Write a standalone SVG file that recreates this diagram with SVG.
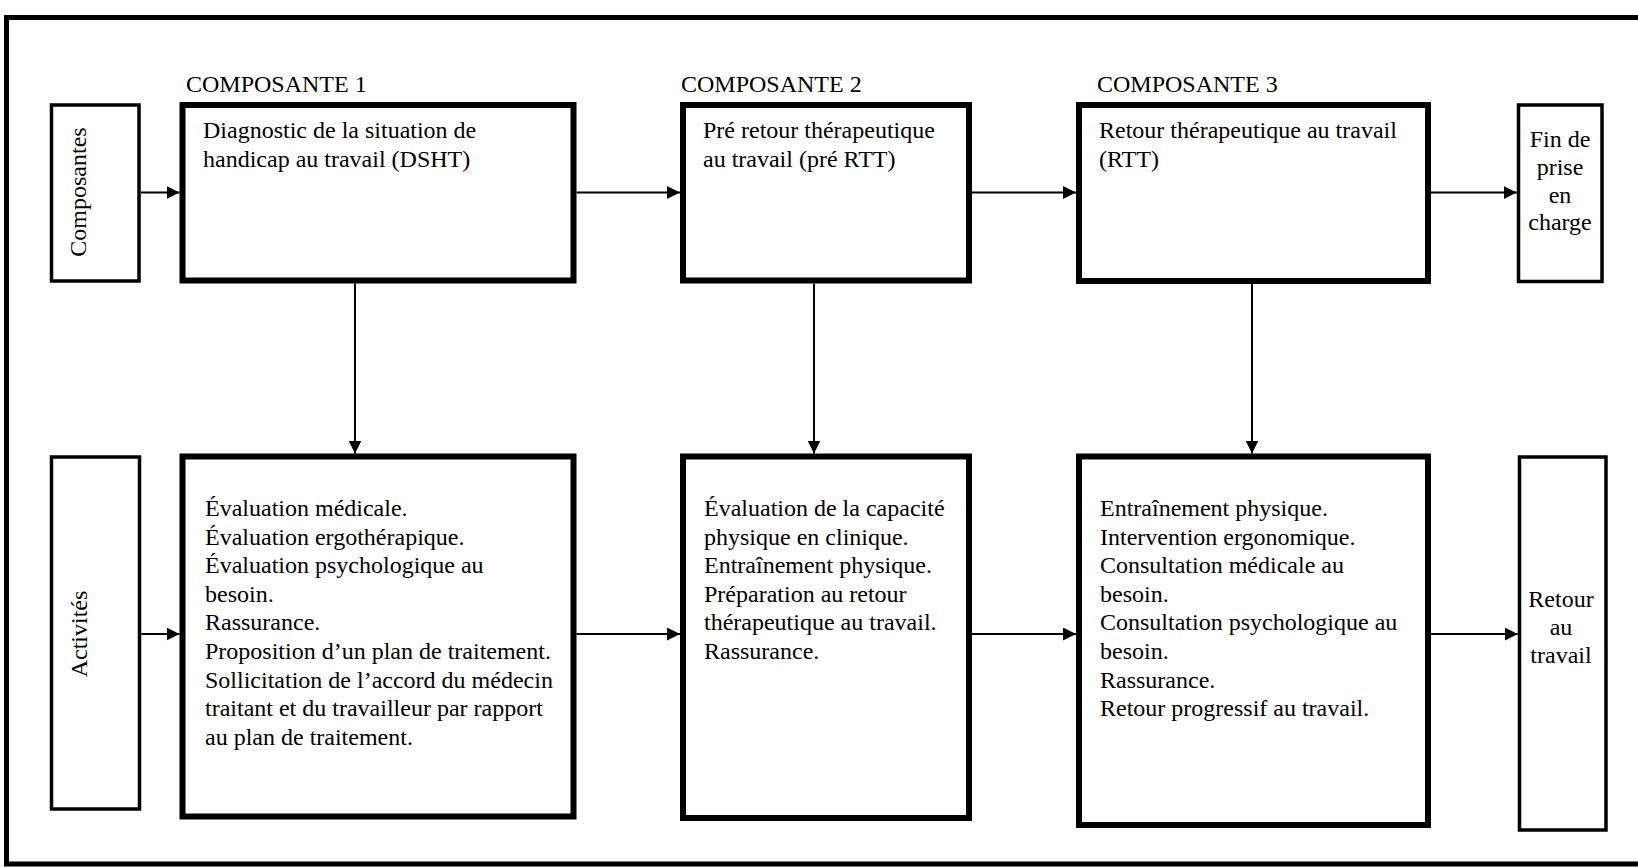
<svg xmlns="http://www.w3.org/2000/svg" width="1638" height="867" viewBox="0 0 1638 867">
<defs>
<marker id="ah" markerUnits="userSpaceOnUse" markerWidth="14" markerHeight="14" refX="13" refY="6.5" orient="auto">
<path d="M0,0 L13,6.5 L0,13 z" fill="#000"/>
</marker>
<style>
text{font-family:"Liberation Serif","Times New Roman",serif;font-size:24px;fill:#000}
.thick{fill:#fff;stroke:#000;stroke-width:6}
.thin{fill:#fff;stroke:#000;stroke-width:3.5}
.conn{stroke:#000;stroke-width:2;fill:none;marker-end:url(#ah)}
.c{text-anchor:middle}
</style>
</defs>
<rect width="1638" height="867" fill="#fff"/>
<path d="M1645,17.5 H6.5 V864 H1645" fill="none" stroke="#000" stroke-width="5"/>

<g id="labels">
<text x="186" y="91.5">COMPOSANTE 1</text>
<text x="681" y="91.5">COMPOSANTE 2</text>
<text x="1097" y="91.5">COMPOSANTE 3</text>
</g>

<g id="composantes">
<rect class="thin" x="51.5" y="105" width="87.5" height="176"/>
<text class="c" transform="translate(86,192) rotate(-90)">Composantes</text>
</g>

<g id="dsht">
<rect class="thick" x="182.5" y="105" width="391" height="175.5"/>
<text x="203" y="138">Diagnostic de la situation de</text>
<text x="203" y="166.5">handicap au travail (DSHT)</text>
</g>

<g id="prertt">
<rect class="thick" x="683" y="105" width="286" height="175.5"/>
<text x="703" y="138">Pré retour thérapeutique</text>
<text x="703" y="166.5">au travail (pré RTT)</text>
</g>

<g id="rtt">
<rect class="thick" x="1079" y="105" width="349" height="176"/>
<text x="1099" y="138">Retour thérapeutique au travail</text>
<text x="1099" y="166.5">(RTT)</text>
</g>

<g id="fin">
<rect class="thin" x="1518.5" y="105" width="83.5" height="176.5"/>
<text class="c" x="1560" y="147">Fin de</text>
<text class="c" x="1560" y="175">prise</text>
<text class="c" x="1560" y="202.5">en</text>
<text class="c" x="1560" y="230">charge</text>
</g>

<g id="activites">
<rect class="thin" x="51.5" y="457" width="88" height="352"/>
<text class="c" transform="translate(87,634) rotate(-90)">Activités</text>
</g>

<g id="act1">
<rect class="thick" x="182.5" y="456.5" width="391" height="360"/>
<text x="205" y="516">Évaluation médicale.</text>
<text x="205" y="544.6">Évaluation ergothérapique.</text>
<text x="205" y="573.2">Évaluation psychologique au</text>
<text x="205" y="601.8">besoin.</text>
<text x="205" y="630.4">Rassurance.</text>
<text x="205" y="659">Proposition d’un plan de traitement.</text>
<text x="205" y="687.6">Sollicitation de l’accord du médecin</text>
<text x="205" y="716.2">traitant et du travailleur par rapport</text>
<text x="205" y="744.8">au plan de traitement.</text>
</g>

<g id="act2">
<rect class="thick" x="683" y="456.5" width="286" height="361.5"/>
<text x="704" y="516">Évaluation de la capacité</text>
<text x="704" y="544.6">physique en clinique.</text>
<text x="704" y="573.2">Entraînement physique.</text>
<text x="704" y="601.8">Préparation au retour</text>
<text x="704" y="630.4">thérapeutique au travail.</text>
<text x="704" y="659">Rassurance.</text>
</g>

<g id="act3">
<rect class="thick" x="1079" y="456.5" width="349" height="368.5"/>
<text x="1100" y="516">Entraînement physique.</text>
<text x="1100" y="544.6">Intervention ergonomique.</text>
<text x="1100" y="573.2">Consultation médicale au</text>
<text x="1100" y="601.8">besoin.</text>
<text x="1100" y="630.4">Consultation psychologique au</text>
<text x="1100" y="659">besoin.</text>
<text x="1100" y="687.6">Rassurance.</text>
<text x="1100" y="716.2">Retour progressif au travail.</text>
</g>

<g id="retour">
<rect class="thin" x="1519.5" y="457" width="86.5" height="373"/>
<text class="c" x="1561" y="607">Retour</text>
<text class="c" x="1561" y="635">au</text>
<text class="c" x="1561" y="663">travail</text>
</g>

<g id="connectors">
<line class="conn" x1="140.75" y1="192.5" x2="179.5" y2="192.5"/>
<line class="conn" x1="576.5" y1="192.5" x2="680" y2="192.5"/>
<line class="conn" x1="972" y1="192.5" x2="1076" y2="192.5"/>
<line class="conn" x1="1431" y1="192.5" x2="1516.75" y2="192.5"/>
<line class="conn" x1="355" y1="283.5" x2="355" y2="453.5"/>
<line class="conn" x1="814" y1="283.5" x2="814" y2="453.5"/>
<line class="conn" x1="1252" y1="284" x2="1252" y2="453.5"/>
<line class="conn" x1="141.25" y1="634" x2="179.5" y2="634"/>
<line class="conn" x1="576.5" y1="634" x2="680" y2="634"/>
<line class="conn" x1="972" y1="634" x2="1076" y2="634"/>
<line class="conn" x1="1431" y1="634" x2="1517.75" y2="634"/>
</g>
</svg>
